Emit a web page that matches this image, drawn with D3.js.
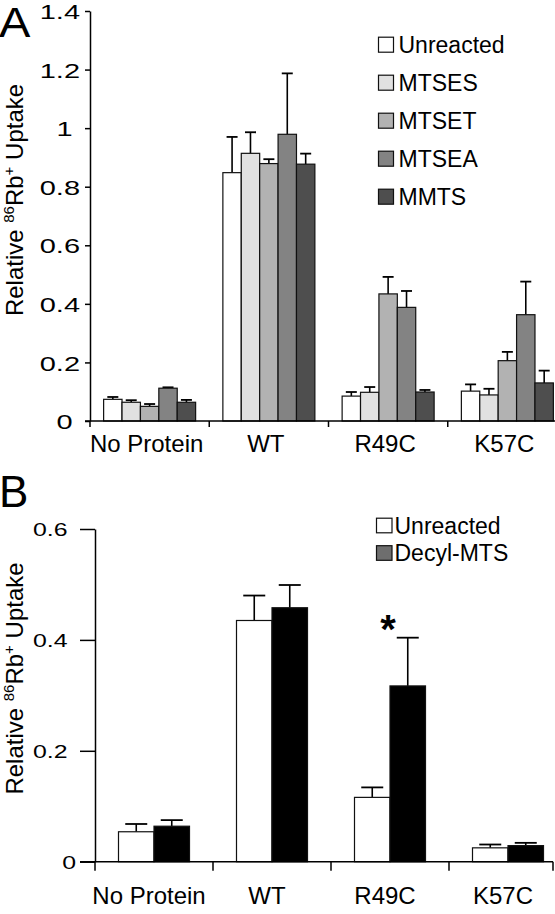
<!DOCTYPE html>
<html>
<head>
<meta charset="utf-8">
<script src="https://cdn.jsdelivr.net/npm/d3@7"></script>
<style>
  html, body { margin: 0; padding: 0; background: #fff; }
  svg { display: block; font-family: "Liberation Sans", Arial, sans-serif; }
</style>
</head>
<body>
<svg id="chart" width="555" height="914"></svg>
<script>
// ---------- DATA ----------
const categories = ["No Protein", "WT", "R49C", "K57C"];

// Panel A
const seriesA = ["Unreacted", "MTSES", "MTSET", "MTSEA", "MMTS"];
const unreactedA = [0.074, 0.848, 0.085, 0.102];
const unreactedAErr = [0.008, 0.122, 0.014, 0.023];
const mtsesA = [0.064, 0.914, 0.098, 0.089];
const mtsesAErr = [0.007, 0.072, 0.018, 0.021];
const mtsetA = [0.050, 0.879, 0.434, 0.206];
const mtsetAErr = [0.008, 0.015, 0.058, 0.030];
const mtseaA = [0.112, 0.979, 0.388, 0.363];
const mtseaAErr = [0.003, 0.208, 0.056, 0.113];
const mmtsA = [0.064, 0.877, 0.099, 0.130];
const mmtsAErr = [0.008, 0.036, 0.007, 0.042];
const yTicksA = [0, 0.2, 0.4, 0.6, 0.8, 1, 1.2, 1.4];
const yTickLabelsA = ["0", "0.2", "0.4", "0.6", "0.8", "1", "1.2", "1.4"];

// Panel B
const seriesB = ["Unreacted", "Decyl-MTS"];
const unreactedB = [0.054, 0.435, 0.116, 0.025];
const unreactedBErr = [0.014, 0.045, 0.018, 0.006];
const decylB = [0.064, 0.458, 0.317, 0.029];
const decylBErr = [0.011, 0.041, 0.087, 0.005];
const yTicksB = [0, 0.2, 0.4, 0.6];
const yTickLabelsB = ["0", "0.2", "0.4", "0.6"];
const significantB = ["R49C"];

// ---------- STYLES ----------
const colorsA = ["#ffffff", "#e1e1e1", "#b2b2b2", "#838383", "#4e4e4e"];
const colorsB = ["#ffffff", "#000000"];
const legendColorsB = ["#ffffff", "#6e6e6e"];

const svg = d3.select("#chart");
svg.append("rect").attr("width", 555).attr("height", 914).attr("fill", "#fff");

function yTitle(g, cx, cy) {
  const t = g.append("text")
    .attr("transform", `translate(${cx},${cy}) rotate(-90)`)
    .attr("text-anchor", "middle")
    .attr("font-size", 24)
    .attr("fill", "#000");
  t.append("tspan").text("Relative ");
  t.append("tspan").attr("font-size", 15).attr("dy", -9).text("86");
  t.append("tspan").attr("dy", 9).text("Rb");
  t.append("tspan").attr("font-size", 15).attr("dy", -9).text("+");
  t.append("tspan").attr("dy", 9).text(" Uptake");
}

function panel(opts) {
  const g = svg.append("g");
  const x0 = d3.scaleBand().domain(categories).range([opts.left, opts.right]).padding(0);
  const x1 = d3.scaleBand().domain(opts.series).range([0, opts.groupW]).padding(0);
  const y = d3.scaleLinear().domain([0, opts.ymax]).range([opts.bottom, opts.top]);
  const off = (x0.bandwidth() - opts.groupW) / 2;

  // bars + error bars
  opts.series.forEach((s, si) => {
    const vals = opts.values[si], errs = opts.errors[si];
    categories.forEach((c, ci) => {
      const bx = x0(c) + off + x1(s);
      const bw = x1.bandwidth();
      const cx = bx + bw / 2;
      const top = y(vals[ci]);
      const etop = y(vals[ci] + errs[ci]);
      g.append("line").attr("x1", cx).attr("x2", cx).attr("y1", top).attr("y2", etop)
        .attr("stroke", "#000").attr("stroke-width", 1.6);
      g.append("line").attr("x1", cx - opts.capW / 2).attr("x2", cx + opts.capW / 2)
        .attr("y1", etop).attr("y2", etop).attr("stroke", "#000").attr("stroke-width", 1.8);
      g.append("rect").attr("x", bx).attr("y", top).attr("width", bw)
        .attr("height", y(0) - top)
        .attr("fill", opts.colors[si]).attr("stroke", "#111").attr("stroke-width", 1.2);
    });
  });

  // y axis
  const ya = g.append("g").attr("transform", `translate(${opts.left},0)`)
    .call(d3.axisLeft(y).tickValues(opts.yTicks).tickSize(opts.tickLen).tickSizeOuter(0)
      .tickFormat((d, i) => opts.yLabels[i]));
  ya.select(".domain").attr("stroke", "#000").attr("stroke-width", 1.5);
  ya.selectAll(".tick line").attr("stroke", "#000").attr("stroke-width", 1.5);
  ya.selectAll(".tick text")
    .attr("x", 0).attr("dy", "0.36em")
    .attr("font-size", opts.tickFont)
    .attr("font-family", '"Liberation Sans", Arial, sans-serif')
    .attr("fill", "#000")
    .attr("text-anchor", "end")
    .attr("transform", (d, i) => {
      const lab = opts.yLabels[i];
      const dx = lab.indexOf(".") < 0 ? opts.intLabelX : opts.labelX;
      return `translate(${dx},0) scale(1.38,1)`;
    });

  // x axis baseline with category separator ticks
  g.append("line").attr("x1", opts.left - opts.tickLen).attr("x2", opts.axisEnd)
    .attr("y1", y(0)).attr("y2", y(0)).attr("stroke", "#000").attr("stroke-width", 1.5);
  const seps = categories.map(c => x0(c)).concat(opts.extraSep);
  seps.forEach(sx => {
    g.append("line").attr("x1", sx).attr("x2", sx).attr("y1", y(0)).attr("y2", y(0) + opts.sepLen)
      .attr("stroke", "#000").attr("stroke-width", 1.5);
  });
  categories.forEach(c => {
    g.append("text").attr("x", x0(c) + x0.bandwidth() / 2 + opts.catLabelDx)
      .attr("y", opts.catLabelY).attr("text-anchor", "middle")
      .attr("font-size", 24).attr("fill", "#000").text(c);
  });
  return { g, x0, x1, y };
}

// ---------- PANEL A ----------
const A = panel({
  left: 90, right: 567, top: 11, bottom: 421, ymax: 1.4,
  groupW: 92, capW: 11, series: seriesA,
  values: [unreactedA, mtsesA, mtsetA, mtseaA, mmtsA],
  errors: [unreactedAErr, mtsesAErr, mtsetAErr, mtseaAErr, mmtsAErr],
  colors: colorsA, yTicks: yTicksA, yLabels: yTickLabelsA,
  tickLen: 5, tickFont: 21, labelX: -10, intLabelX: -17.5,
  axisEnd: 555, extraSep: [], sepLen: 6, catLabelY: 451.5, catLabelDx: -3
});
svg.append("text").attr("x", -1).attr("y", 37).attr("font-size", 42)
  .attr("transform", "scale(1.12,1)").attr("fill", "#000").text("A");
yTitle(svg, 22.5, 200);

// legend A
const legA = svg.append("g");
seriesA.forEach((s, i) => {
  const cy = 44.7 + i * 38;
  legA.append("rect").attr("x", 378.5).attr("y", cy - 7.5).attr("width", 15).attr("height", 15)
    .attr("fill", colorsA[i]).attr("stroke", "#111").attr("stroke-width", 1.2);
  legA.append("text").attr("x", 398.5).attr("y", cy + 7.8).attr("font-size", 23)
    .attr("fill", "#000").text(s);
});

// ---------- PANEL B ----------
const B = panel({
  left: 95, right: 567, top: 529, bottom: 861.7, ymax: 0.6,
  groupW: 71, capW: 22, series: seriesB,
  values: [unreactedB, decylB],
  errors: [unreactedBErr, decylBErr],
  colors: colorsB, yTicks: yTicksB, yLabels: yTickLabelsB,
  tickLen: 15, tickFont: 18, labelX: -27.5, intLabelX: -19,
  axisEnd: 553, extraSep: [553], sepLen: 9, catLabelY: 904, catLabelDx: -5
});
svg.append("text").attr("x", -1).attr("y", 506.7).attr("font-size", 44)
  .attr("fill", "#000").text("B");
yTitle(svg, 22.5, 678.5);

// significance asterisk
significantB.forEach(c => {
  svg.append("text").attr("x", B.x0(c) + B.x0.bandwidth() / 2 - 2).attr("y", 643)
    .attr("text-anchor", "middle").attr("font-size", 40).attr("font-weight", "bold")
    .attr("fill", "#000").text("*");
});

// legend B
const legB = svg.append("g");
seriesB.forEach((s, i) => {
  const cy = 525.5 + i * 27.5;
  legB.append("rect").attr("x", 376.5).attr("y", cy - 7.3).attr("width", 15.5).attr("height", 14.6)
    .attr("fill", legendColorsB[i]).attr("stroke", "#111").attr("stroke-width", 1.2);
  legB.append("text").attr("x", 394.5).attr("y", cy + 8.4).attr("font-size", 23)
    .attr("fill", "#000").text(s);
});
</script>
</body>
</html>
